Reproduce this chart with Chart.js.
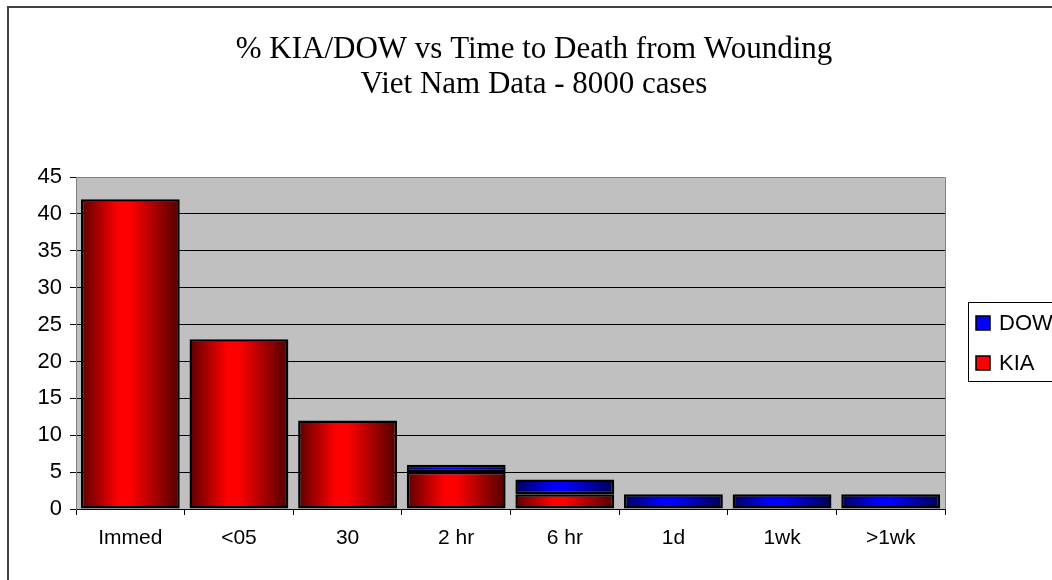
<!DOCTYPE html>
<html lang="en">
<head>
<meta charset="UTF-8">
<title>% KIA/DOW vs Time to Death from Wounding</title>
<script src="https://cdn.jsdelivr.net/npm/chart.js"></script>
<style>
 body { margin: 0; background: #fff; }
 canvas { display: block; }
</style>
</head>
<body>
<canvas id="chart" width="1052" height="580"></canvas>
<script>
const categories = ['Immed', '<05', '30', '2 hr', '6 hr', '1d', '1wk', '>1wk'];
const kiaValues = [42, 23, 12, 5, 2, 0, 0, 0];
const dowValues = [0, 0, 0, 1, 2, 2, 2, 2];
const titleLines = ['% KIA/DOW vs Time to Death from Wounding', 'Viet Nam Data - 8000 cases'];
const yMax = 45;
const yStep = 5;

Chart.defaults.font.family = '"Liberation Sans", Arial, sans-serif';
Chart.defaults.color = '#000';

// horizontal shaded fill like the old office 3D-ish bars
function barFill(dark, light, dark2) {
  return function (ctx) {
    const chart = ctx.chart;
    const x = chart.scales.x;
    if (!x || ctx.type !== 'data') return light;
    const cx = x.getPixelForValue(ctx.dataIndex);
    const half = x.width / categories.length * 0.45;
    if (!isFinite(cx) || !isFinite(half) || half <= 0) return light;
    const g = chart.ctx.createLinearGradient(cx - half, 0, cx + half, 0);
    g.addColorStop(0, dark);
    g.addColorStop(0.38, light);
    g.addColorStop(0.5, light);
    g.addColorStop(1, dark2);
    return g;
  };
}

const framePlugin = {
  id: 'frame',
  beforeDraw(chart) {
    const a = chart.chartArea;
    const c = chart.ctx;
    c.save();
    c.fillStyle = '#c0c0c0';
    c.fillRect(a.left, a.top, a.right - a.left, a.bottom - a.top);
    c.restore();
  },
  beforeDatasetsDraw(chart) {
    const a = chart.chartArea;
    const c = chart.ctx;
    c.save();
    c.strokeStyle = '#808080';
    c.lineWidth = 1;
    c.beginPath();
    c.moveTo(a.left, a.top + 0.5);
    c.lineTo(a.right + 0.5, a.top + 0.5);
    c.lineTo(a.right + 0.5, a.bottom);
    c.stroke();
    c.restore();
  },
  afterDraw(chart) {
    const c = chart.ctx;
    c.save();
    // outer chart frame (runs off the right and bottom edge)
    c.strokeStyle = '#404040';
    c.lineWidth = 2;
    c.strokeRect(8, 7, 1200, 700);

    // title
    c.fillStyle = '#000';
    c.font = '31px "Liberation Serif", "Times New Roman", serif';
    c.textAlign = 'center';
    c.textBaseline = 'alphabetic';
    c.fillText(titleLines[0], 534, 58);
    c.fillText(titleLines[1], 534, 93);

    // legend box, DOW listed first
    c.lineWidth = 1;
    c.strokeStyle = '#000';
    c.strokeRect(968.5, 302.5, 200, 79);
    const items = chart.data.datasets.slice().reverse();
    c.font = '22px "Liberation Sans", Arial, sans-serif';
    c.textAlign = 'left';
    c.textBaseline = 'middle';
    items.forEach((ds, i) => {
      const y = 323 + i * 40;
      c.fillStyle = ds.legendColor;
      c.fillRect(976, y - 7, 14, 14);
      c.strokeStyle = '#000';
      c.lineWidth = 1.5;
      c.strokeRect(976, y - 7, 14, 14);
      c.fillStyle = '#000';
      c.fillText(ds.label, 999, y + 1);
    });
    c.restore();
  }
};

new Chart(document.getElementById('chart'), {
  type: 'bar',
  data: {
    labels: categories,
    datasets: [
      {
        label: 'KIA',
        data: kiaValues,
        legendColor: '#ff0000',
        backgroundColor: barFill('#5e0000', '#ff0000', '#520000'),
        borderColor: '#000',
        borderWidth: ctx => (ctx.raw ? 2.5 : 0),
        borderSkipped: false,
        barPercentage: 0.91,
        categoryPercentage: 1
      },
      {
        label: 'DOW',
        data: dowValues,
        legendColor: '#0000ff',
        backgroundColor: barFill('#00005e', '#0000ff', '#000052'),
        borderColor: '#000',
        borderWidth: ctx => (ctx.raw ? 2.5 : 0),
        borderSkipped: false,
        barPercentage: 0.91,
        categoryPercentage: 1
      }
    ]
  },
  options: {
    responsive: false,
    animation: false,
    layout: { padding: { top: 177, right: 107, bottom: 21, left: 0 } },
    plugins: {
      legend: { display: false },
      title: { display: false },
      tooltip: { enabled: false }
    },
    scales: {
      x: {
        stacked: true,
        afterFit: s => { s.height = 50; },
        grid: {
          display: true,
          drawOnChartArea: false,
          offset: true,
          color: '#000',
          tickLength: 6
        },
        border: { color: '#000', width: 1 },
        ticks: { font: { size: 21 }, padding: 11, color: '#000' }
      },
      y: {
        stacked: true,
        min: 0,
        max: yMax,
        afterFit: s => { s.width = 76; },
        grid: {
          color: ctx => (ctx.tick && ctx.tick.value === yMax ? '#808080' : '#000'),
          tickColor: '#000',
          tickLength: 6,
          lineWidth: 1
        },
        border: { color: '#808080', width: 1 },
        ticks: { stepSize: yStep, font: { size: 22 }, padding: 8, color: '#000' }
      }
    }
  },
  plugins: [framePlugin]
});
</script>
</body>
</html>
